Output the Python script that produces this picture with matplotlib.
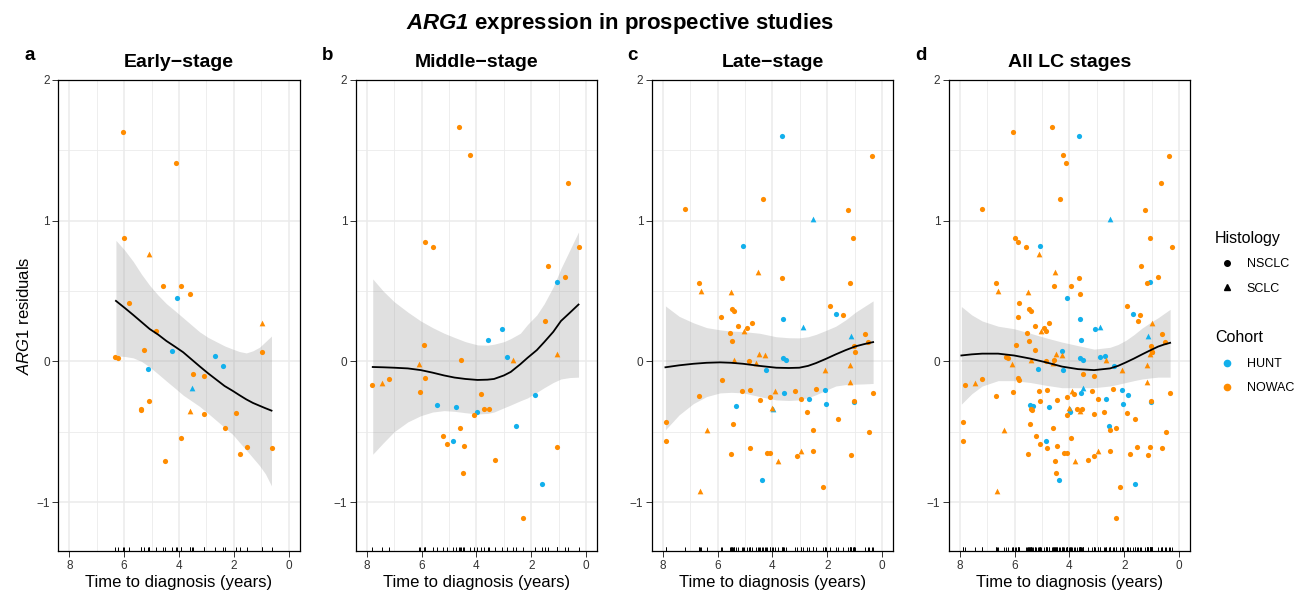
import matplotlib
matplotlib.use("Agg")
import matplotlib.pyplot as plt
from matplotlib.lines import Line2D
from matplotlib.transforms import blended_transform_factory
import numpy as np

plt.rcParams["font.family"] = ["Liberation Sans", "DejaVu Sans"]
plt.rcParams["mathtext.fontset"] = "custom"
plt.rcParams["mathtext.rm"] = "Liberation Sans"
plt.rcParams["mathtext.it"] = "Liberation Sans:italic"
plt.rcParams["mathtext.bf"] = "Liberation Sans:bold"
plt.rcParams["mathtext.bfit"] = "Liberation Sans:italic:bold"

# ---------------------------------------------------------------- data
# cohort: H = HUNT, N = NOWAC ; histology: C = NSCLC, S = SCLC

early_time = [6.06, 4.12, 5.99, 5.10, 4.58, 3.93, 4.08, 3.61, 5.84, 0.99, 4.85, 5.27,
              4.27, 6.32, 6.23, 0.98, 2.70, 2.38, 5.13, 3.49, 3.10, 3.52, 5.08, 5.40,
              5.38, 3.60, 3.10, 1.92, 2.32, 3.93, 1.52, 0.63, 1.79, 4.52]
early_resid = [1.63, 1.41, 0.875, 0.76, 0.536, 0.534, 0.45, 0.476, 0.416, 0.27, 0.214, 0.082,
               0.077, 0.032, 0.025, 0.067, 0.035, -0.035, -0.057, -0.09, -0.107, -0.187, -0.284, -0.335,
               -0.345, -0.35, -0.377, -0.367, -0.474, -0.544, -0.606, -0.618, -0.658, -0.711]
early_cohort = "NNNNNNHNNNNNHNNNHHHNNHNNNNNNNNNNNN"
early_hist   = "CCCSCCCCCSCCCCCCCCCCCSCCCSCCCCCCCC"

middle_time = [4.62, 4.23, 0.67, 5.87, 5.59, 0.28, 1.39, 1.05, 0.78, 1.51, 3.08, 3.57,
               5.93, 1.05, 2.88, 2.67, 4.57, 6.08, 7.81, 7.44, 7.17, 5.86, 6.05, 3.83,
               1.88, 5.43, 4.74, 3.72, 3.56, 3.98, 4.09, 2.55, 4.61, 5.22, 4.85, 5.07,
               4.44, 1.05, 3.31, 4.50, 1.62, 2.30]
middle_resid = [1.666, 1.47, 1.27, 0.845, 0.815, 0.81, 0.676, 0.566, 0.60, 0.29, 0.227, 0.152,
                0.117, 0.05, 0.032, 0.012, 0.012, -0.017, -0.17, -0.155, -0.125, -0.117, -0.22, -0.232,
                -0.237, -0.307, -0.324, -0.337, -0.337, -0.36, -0.38, -0.46, -0.474, -0.53, -0.564, -0.586,
                -0.60, -0.61, -0.703, -0.79, -0.873, -1.11]
middle_cohort = "NNNNNNNHNNHHNNHNNNNNNNNNHHHNNHNHNNHNNNNNHN"
middle_hist   = "CCCCCCCCCCCCCSCSCSCSCCCCCCCCCCCCCCCCCCCCCC"

late_time = [3.66, 0.38, 4.33, 7.20, 1.23, 2.52, 1.06, 5.08, 4.51, 6.66, 3.65, 1.16,
             6.59, 5.52, 1.91, 5.49, 5.41, 1.69, 1.44, 5.86, 3.63, 4.76, 5.26, 2.87,
             4.91, 5.54, 5.02, 0.62, 1.12, 0.51, 5.47, 1.04, 0.99, 4.48, 4.26, 3.62,
             3.52, 5.39, 4.85, 4.60, 1.16, 4.22, 2.08, 5.83, 1.18, 2.43, 2.07, 5.10,
             4.80, 3.19, 3.90, 3.57, 0.33, 6.69, 4.09, 2.95, 2.67, 4.44, 1.03, 1.01,
             2.03, 5.33, 4.03, 3.98, 2.74, 1.61, 7.89, 5.45, 6.40, 2.51, 0.47, 7.89,
             4.80, 2.96, 2.52, 4.20, 4.09, 5.50, 1.14, 3.10, 3.81, 4.39, 2.14, 6.65]
late_resid = [1.60, 1.46, 1.155, 1.085, 1.075, 1.01, 0.875, 0.82, 0.633, 0.56, 0.594, 0.56,
              0.50, 0.494, 0.397, 0.374, 0.36, 0.334, 0.327, 0.314, 0.30, 0.272, 0.25, 0.247,
              0.24, 0.204, 0.214, 0.197, 0.18, 0.135, 0.145, 0.11, 0.07, 0.05, 0.042, 0.025,
              0.007, 0.012, 0.0, -0.012, -0.025, -0.06, -0.062, -0.13, -0.145, -0.195, -0.20, -0.207,
              -0.202, -0.207, -0.212, -0.222, -0.224, -0.247, -0.252, -0.264, -0.269, -0.272, -0.29, -0.28,
              -0.30, -0.317, -0.33, -0.342, -0.362, -0.41, -0.434, -0.446, -0.486, -0.486, -0.504, -0.564,
              -0.618, -0.638, -0.638, -0.648, -0.648, -0.66, -0.663, -0.676, -0.71, -0.843, -0.893, -0.923]
late_cohort = ("HNNNNHNHNNNN" "NNNNNHNNHNNH" "NNNNHNNNNNNH"
               "HNNNNHNNNNHN" "NNNHNNNNHNHN" "HHNHNNNNNNNN" "NNNNNNNNNHNN")
late_hist = ("CCCCCSCCSCCC" "SSCCCCCCCCCS" "CCSCSCCCCSSC"
             "CSCSSCSCSCCC" "CCSCCCCCCCCC" "CCSSCCCCSCCC" "CSCCCCCCSCCS")

# loess fits with 95% band (x, fit, lower, upper)
early_sx = [6.30, 5.98, 5.67, 5.37, 5.07, 4.76, 4.46, 4.15, 3.85, 3.55, 3.25, 2.94,
            2.64, 2.34, 2.04, 1.80, 1.55, 1.31, 1.07, 0.85, 0.63]
early_fit = [0.43, 0.38, 0.33, 0.28, 0.23, 0.19, 0.145, 0.105, 0.065, 0.015, -0.035, -0.085,
             -0.13, -0.175, -0.21, -0.24, -0.27, -0.295, -0.315, -0.333, -0.35]
early_lo = [0.04, 0.035, 0.025, 0.0, -0.04, -0.09, -0.14, -0.19, -0.24, -0.28, -0.32, -0.37,
            -0.42, -0.47, -0.52, -0.575, -0.63, -0.685, -0.74, -0.80, -0.885]
early_hi = [0.86, 0.79, 0.71, 0.62, 0.54, 0.47, 0.41, 0.36, 0.31, 0.26, 0.21, 0.17,
            0.14, 0.11, 0.087, 0.07, 0.06, 0.075, 0.10, 0.14, 0.18]

middle_sx = [7.78, 7.40, 7.00, 6.50, 6.03, 5.60, 5.18, 4.80, 4.40, 3.96, 3.60, 3.36,
             3.00, 2.75, 2.40, 2.14, 1.80, 1.53, 1.20, 0.92, 0.60, 0.28]
middle_fit = [-0.04, -0.042, -0.045, -0.05, -0.062, -0.08, -0.10, -0.115, -0.125, -0.132, -0.13, -0.125,
              -0.10, -0.075, -0.02, 0.025, 0.08, 0.137, 0.21, 0.287, 0.345, 0.404]
middle_lo = [-0.66, -0.58, -0.50, -0.43, -0.386, -0.36, -0.35, -0.355, -0.365, -0.374, -0.37, -0.36,
             -0.33, -0.31, -0.28, -0.26, -0.22, -0.187, -0.15, -0.125, -0.115, -0.112]
middle_hi = [0.586, 0.50, 0.424, 0.35, 0.287, 0.24, 0.20, 0.17, 0.14, 0.117, 0.115, 0.122,
             0.14, 0.162, 0.20, 0.262, 0.33, 0.41, 0.53, 0.66, 0.79, 0.92]

late_sx = [7.90, 7.40, 6.88, 6.40, 5.91, 5.50, 5.07, 4.47, 3.86, 3.40, 3.02, 2.70,
           2.41, 2.05, 1.69, 1.33, 0.97, 0.65, 0.33]
late_fit = [-0.042, -0.028, -0.017, -0.010, -0.007, -0.010, -0.017, -0.032, -0.045, -0.047, -0.045, -0.032,
            -0.012, 0.018, 0.05, 0.08, 0.107, 0.123, 0.137]
late_lo = [-0.486, -0.38, -0.30, -0.25, -0.224, -0.22, -0.224, -0.25, -0.274, -0.278, -0.274, -0.258,
           -0.237, -0.205, -0.175, -0.165, -0.162, -0.16, -0.157]
late_hi = [0.394, 0.32, 0.274, 0.24, 0.224, 0.215, 0.212, 0.20, 0.175, 0.168, 0.167, 0.175,
           0.192, 0.22, 0.25, 0.295, 0.35, 0.39, 0.43]

all_sx = [7.94, 7.56, 7.18, 6.60, 6.02, 5.43, 4.85, 4.27, 3.69, 3.10, 2.52, 2.23,
          1.94, 1.65, 1.35, 1.06, 0.77, 0.55, 0.33]
all_fit = [0.042, 0.05, 0.055, 0.055, 0.042, 0.02, -0.007, -0.037, -0.055, -0.062, -0.05, -0.032,
           -0.007, 0.02, 0.05, 0.078, 0.105, 0.12, 0.132]
all_lo = [-0.304, -0.23, -0.175, -0.137, -0.137, -0.15, -0.17, -0.187, -0.187, -0.187, -0.175, -0.163,
          -0.15, -0.137, -0.125, -0.118, -0.112, -0.112, -0.112]
all_hi = [0.39, 0.33, 0.287, 0.25, 0.232, 0.20, 0.167, 0.137, 0.112, 0.087, 0.10, 0.12,
          0.15, 0.19, 0.237, 0.275, 0.31, 0.34, 0.37]

COL = {"H": "#12B0EC", "N": "#FF8C00"}
MARK = {"C": ("o", 14), "S": ("^", 17)}

# ---------------------------------------------------------------- figure

fig = plt.figure(figsize=(13.05, 5.93), dpi=100)
lefts = [0.0447, 0.2726, 0.4994, 0.7270]
W, B, H = 0.1850, 0.0703, 0.7948

panels = [
    ("a", "Early\u2212stage", early_time, early_resid, early_cohort, early_hist,
     early_sx, early_fit, early_lo, early_hi),
    ("b", "Middle\u2212stage", middle_time, middle_resid, middle_cohort, middle_hist,
     middle_sx, middle_fit, middle_lo, middle_hi),
    ("c", "Late\u2212stage", late_time, late_resid, late_cohort, late_hist,
     late_sx, late_fit, late_lo, late_hi),
    ("d", "All LC stages",
     early_time + middle_time + late_time, early_resid + middle_resid + late_resid,
     early_cohort + middle_cohort + late_cohort, early_hist + middle_hist + late_hist,
     all_sx, all_fit, all_lo, all_hi),
]

letter_x = [0.023, 0.2506, 0.4843, 0.7057]

for i, (lab, title, t, r, coh, hist, sx, sfit, slo, shi) in enumerate(panels):
    ax = fig.add_axes([lefts[i], B, W, H])
    t = np.array(t); r = np.array(r)
    coh = np.array(list(coh)); hist = np.array(list(hist))

    ax.fill_between(sx, slo, shi, color="#999999", alpha=0.3, lw=0, zorder=1)
    for c in ("H", "N"):
        for h in ("C", "S"):
            m = (coh == c) & (hist == h)
            if m.any():
                ax.scatter(t[m], r[m], marker=MARK[h][0], s=MARK[h][1], color=COL[c],
                           linewidths=0, zorder=2)
    ax.plot(sx, sfit, color="black", lw=1.3, zorder=3)

    trans = blended_transform_factory(ax.transData, ax.transAxes)
    ax.vlines(t, 0, 0.01, transform=trans, color="black", lw=0.7, zorder=4)

    ax.set_xlim(8.4, -0.4)
    ax.set_ylim(-1.35, 2.0)
    ax.set_xticks([0, 2, 4, 6, 8])
    ax.set_xticks([1, 3, 5, 7], minor=True)
    ax.set_yticks([-1, 0, 1, 2])
    ax.set_yticklabels(["\u22121", "0", "1", "2"])
    ax.set_yticks([-0.5, 0.5, 1.5], minor=True)
    ax.grid(True, which="major", color="#EBEBEB", lw=1.1, zorder=0)
    ax.grid(True, which="minor", color="#EBEBEB", lw=0.6, zorder=0)
    ax.set_axisbelow(True)
    ax.tick_params(which="major", length=4, width=0.7, color="#333333",
                   labelsize=8.5, labelcolor="#333333", pad=2)
    ax.tick_params(which="minor", length=0)
    for sp in ax.spines.values():
        sp.set_color("black"); sp.set_linewidth(0.9)

    ax.set_xlabel("Time to diagnosis (years)", fontsize=12, labelpad=2.5)
    if i == 0:
        ax.set_ylabel(r"$\mathit{ARG1}$ residuals", fontsize=12, labelpad=3)
    ax.text(0.5, 1.038, title, transform=ax.transAxes, ha="center", va="center",
            fontsize=14, fontweight="bold")
    fig.text(letter_x[i], 0.9056, lab, ha="center", va="center", fontsize=13.5, fontweight="bold")

fig.text(0.4751, 0.960, r"$\mathbfit{ARG1}$ expression in prospective studies",
         ha="center", va="center", fontsize=16, fontweight="bold")

# ---------------------------------------------------------------- legends

h_hist = [Line2D([], [], marker="o", ls="", color="black", markersize=4),
          Line2D([], [], marker="^", ls="", color="black", markersize=4.5)]
h_coh = [Line2D([], [], marker="o", ls="", color=COL["H"], markersize=4.5),
         Line2D([], [], marker="o", ls="", color=COL["N"], markersize=4.5)]

leg_kw = dict(loc="upper left", frameon=False, fontsize=9, title_fontsize=11.5,
              alignment="left", handletextpad=0.55, labelspacing=1.0, handlelength=2.0,
              borderaxespad=0, borderpad=0)
fig.legend(h_hist, ["NSCLC", "SCLC"], title="Histology",
           bbox_to_anchor=(0.931, 0.611), **leg_kw)
fig.legend(h_coh, ["HUNT", "NOWAC"], title="Cohort",
           bbox_to_anchor=(0.931, 0.4427), **leg_kw)

fig.savefig("out.png", dpi=100)
